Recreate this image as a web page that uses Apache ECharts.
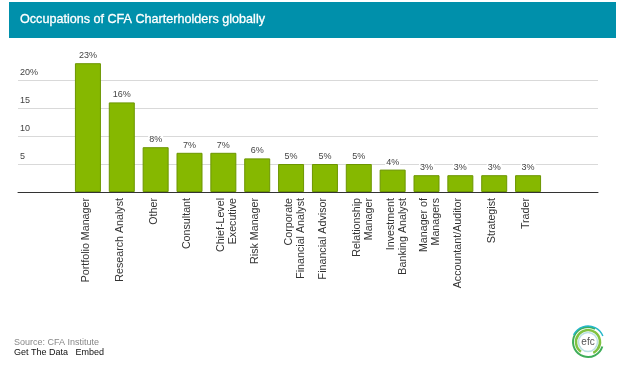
<!DOCTYPE html>
<html>
<head>
<meta charset="utf-8">
<script src="https://cdn.jsdelivr.net/npm/echarts@6/dist/echarts.min.js"></script>
<style>
html,body{margin:0;padding:0;background:#fff;}
#main{width:640px;height:374px;}
</style>
</head>
<body>
<div id="main"></div>
<script>
var categories = ['Portfolio Manager','Research Analyst','Other','Consultant','Chief-Level\nExecutive','Risk Manager','Corporate\nFinancial Analyst','Financial Advisor','Relationship\nManager','Investment\nBanking Analyst','Manager of\nManagers','Accountant/Auditor','Strategist','Trader'];
var shares = [23,16,8,7,7,6,5,5,5,4,3,3,3,3];
var yTicks = {5:'5',10:'10',15:'15',20:'20%'};

var FONT = '"Liberation Sans",Arial,sans-serif';
var chart = echarts.init(document.getElementById('main'));

//logo: rings round the efc text
function ring(r,start,end,color,width){
    return {
        type:'arc',
        shape:{cx:588,cy:342,r:r,startAngle:start,endAngle:end},
        style:{stroke:color,lineWidth:width,fill:null}
    };
}

chart.setOption({
    animation:false,
    backgroundColor:'#fff',
    graphic:[
        {type:'rect',z:-1,shape:{x:9,y:2,width:607,height:36},style:{fill:'#0090ab'}},
        {type:'text',x:20,y:19.5,style:{text:'Occupations of CFA Charterholders globally',fill:'#fff',stroke:'#fff',lineWidth:0.3,font:'12.6px '+FONT,verticalAlign:'middle'}},
        {type:'text',x:14,y:343,style:{text:'Source: CFA Institute',fill:'#888',font:'9px '+FONT,verticalAlign:'middle'}},
        {type:'text',x:14,y:353,style:{text:'Get The Data   Embed',fill:'#111',font:'9px '+FONT,verticalAlign:'middle'}},
        ring(15,0.3,5.2,'#3fae5a',2),
        ring(12,2.2,7.4,'#7fc241',2.5),
        ring(16,3.6,5.9,'#25b7c9',1.5),
        ring(9.5,0,6.28,'#b9dfe3',1.5),
        {type:'text',x:588,y:342,style:{text:'efc',fill:'#555',font:'10px '+FONT,align:'center',verticalAlign:'middle'}}
    ],
    //grid 0 wide gridlines, grid 1 bars, grid 2 the category names sitting 4px right of the bars
    grid:[
        {left:18,right:42,top:52,height:140},
        {left:71,right:95,top:52,height:140},
        {left:75,right:91,top:52,height:140}
    ],
    xAxis:[
        {
            gridIndex:0,type:'value',min:0,max:1,
            axisLine:{show:true,lineStyle:{color:'#333',width:1}},
            axisTick:{show:false},axisLabel:{show:false},splitLine:{show:false}
        },
        {
            gridIndex:1,type:'category',data:categories,
            axisLine:{show:false},axisTick:{show:false},axisLabel:{show:false}
        },
        {
            gridIndex:2,type:'category',data:categories,
            axisLine:{show:false},axisTick:{show:false},
            axisLabel:{
                rotate:90,interval:0,margin:6,color:'#333',fontFamily:FONT,fontSize:10.7,lineHeight:12,
                //one-line names keep the same first-line position as two-line ones
                formatter:function(v){return v.indexOf('\n') < 0 ? v + '\n ' : v;}
            }
        }
    ],
    yAxis:[
        {
            gridIndex:0,type:'value',min:0,max:25,interval:5,
            axisLine:{show:false},axisTick:{show:false},
            splitLine:{show:true,showMinLine:false,showMaxLine:false,lineStyle:{color:'#d9d9d9',width:1}},
            axisLabel:{
                inside:true,margin:2,verticalAlign:'bottom',color:'#444',fontFamily:FONT,fontSize:9,padding:[0,0,3,0],
                formatter:function(v){return yTicks[v] || '';}
            }
        },
        {
            gridIndex:1,type:'value',min:0,max:25,interval:5,
            axisLine:{show:false},axisTick:{show:false},axisLabel:{show:false},splitLine:{show:false}
        },
        {
            gridIndex:2,type:'value',min:0,max:25,interval:5,
            axisLine:{show:false},axisTick:{show:false},axisLabel:{show:false},splitLine:{show:false}
        }
    ],
    series:[{
        type:'bar',
        xAxisIndex:1,yAxisIndex:1,
        data:shares,
        barWidth:26,
        itemStyle:{color:'#86b800',borderColor:'#6c9600',borderWidth:1},
        label:{
            show:true,position:'top',distance:3,color:'#444',fontFamily:FONT,fontSize:9,
            backgroundColor:'#fff',padding:[0,1],
            formatter:'{c}%'
        }
    }]
});
</script>
</body>
</html>
